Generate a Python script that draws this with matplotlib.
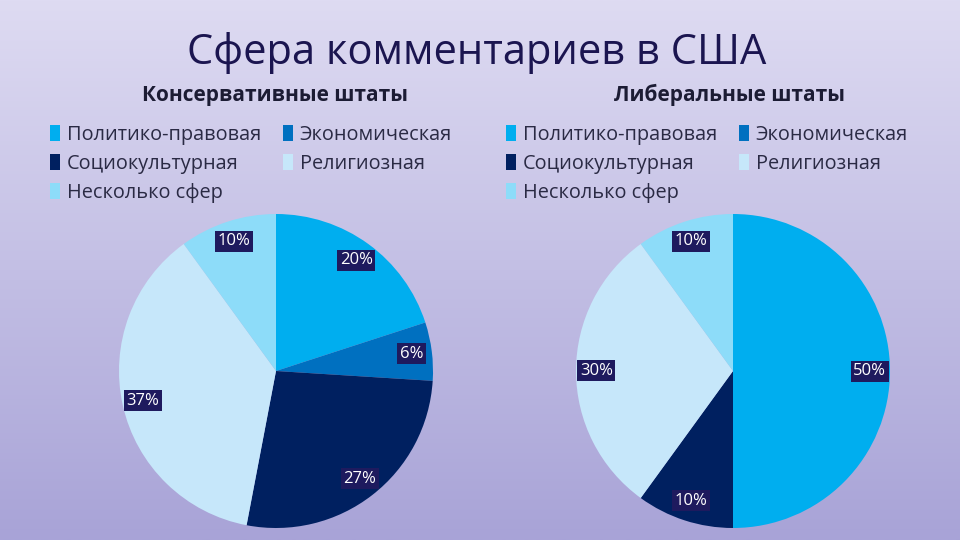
import matplotlib.pyplot as plt
import numpy as np

plt.rcParams['font.family'] = ['Open Sans', 'DejaVu Sans']

categories = ['Политико-правовая', 'Экономическая', 'Социокультурная',
              'Религиозная', 'Несколько сфер']
conservative = [20, 6, 27, 37, 10]
liberal = [50, 0, 10, 30, 10]
colors = ['#00AEEF', '#0070C0', '#002060', '#C6E7FA', '#8DDCF9']

title = 'Сфера комментариев в США'
subtitles = ['Консервативные штаты', 'Либеральные штаты']

fig = plt.figure(figsize=(9.6, 5.4), dpi=100)

# lavender gradient background
bg = fig.add_axes([0, 0, 1, 1], zorder=-10)
grad = np.linspace(0, 1, 256).reshape(-1, 1)
top = np.array([222, 219, 242]) / 255
bot = np.array([168, 163, 215]) / 255
img = top + (bot - top) * grad[:, :, None]
bg.imshow(img, aspect='auto', extent=[0, 1, 0, 1])
bg.axis('off')

fig.text(0.497, 1 - 53 / 540, title, ha='center', va='center', fontsize=30,
         color='#1B1550')


def pct(v):
    return '' if v < 0.5 else '%d%%' % round(v)


def draw_pie(cx, data, sub, sub_x, leg_x):
    r = 157
    cy = 371
    ax = fig.add_axes([(cx - r) / 960, (540 - cy - r) / 540,
                       2 * r / 960, 2 * r / 540])
    wedges, texts, autos = ax.pie(data, colors=colors, startangle=90,
                                  counterclock=False, autopct=pct,
                                  pctdistance=0.87,
                                  wedgeprops=dict(linewidth=0))
    for t in autos:
        t.set_color('white')
        t.set_fontsize(12)
        t.set_bbox(dict(facecolor='#1E1A5E', edgecolor='none', pad=1.8))
    ax.set_xlim(-1, 1)
    ax.set_ylim(-1, 1)
    fig.text(sub_x / 960, 1 - 95 / 540, sub, ha='center', va='center',
             fontsize=15, fontweight='bold', color='#1C1C34')
    order = [0, 2, 4, 1, 3]
    fig.legend([wedges[i] for i in order], [categories[i] for i in order],
               loc='upper left', bbox_to_anchor=(leg_x / 960, 1 - 115 / 540),
               ncol=2, frameon=False, fontsize=14.3, labelcolor='#2A2A44',
               handlelength=0.5, handleheight=0.8, handletextpad=0.35,
               columnspacing=1.1, labelspacing=0.45, borderpad=0)


draw_pie(276, conservative, subtitles[0], 275, 40)
draw_pie(733, liberal, subtitles[1], 729, 496)

fig.savefig('out.png', dpi=100)
